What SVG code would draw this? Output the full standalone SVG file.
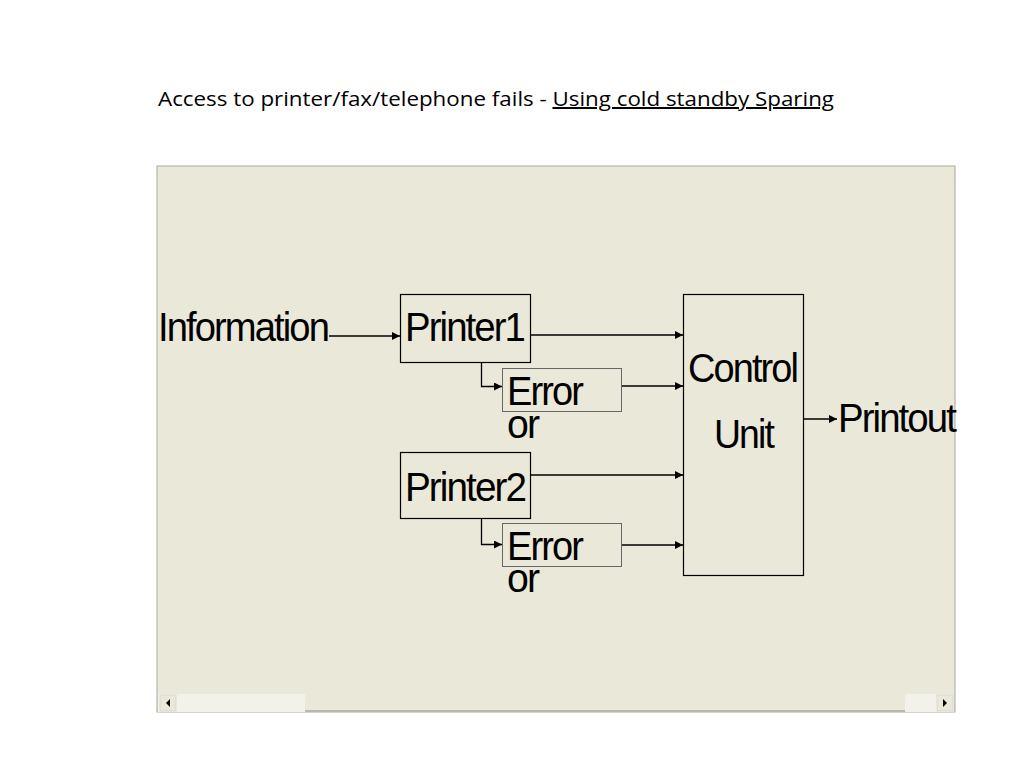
<svg xmlns="http://www.w3.org/2000/svg" width="1024" height="768" viewBox="0 0 1024 768">
<defs>
<style>
.lbl{font-family:"Liberation Sans",Arial,sans-serif;fill:#000;letter-spacing:-2px}
.box{fill:none;stroke:#000;stroke-width:1.2}
.ebox{fill:none;stroke:#666;stroke-width:1}
.ln{fill:none;stroke:#000;stroke-width:1.3}
.title{font-family:"Open Sans","Liberation Sans",sans-serif;font-size:20px;fill:#000}
</style>
<marker id="ah" viewBox="0 0 10 10" refX="10" refY="5" markerWidth="8" markerHeight="8" markerUnits="userSpaceOnUse" orient="auto">
<path d="M0,0 L10,5 L0,10 Z" fill="#000"/>
</marker>
</defs>
<rect width="1024" height="768" fill="#fff"/>
<text class="title" x="158" y="106" textLength="676" lengthAdjust="spacingAndGlyphs">Access to printer/fax/telephone fails - <tspan text-decoration="underline">Using cold standby Sparing</tspan></text>
<g id="panel">
<rect x="157" y="166" width="798" height="546" fill="#EAE8D9" stroke="#A9A79C" stroke-width="1"/>
<rect x="158" y="694" width="796" height="18" fill="#F2F1EA"/>
<rect x="305" y="694" width="600" height="17" fill="#EAE8D9"/>
<line x1="305" y1="711" x2="905" y2="711" stroke="#A8A69A" stroke-width="1.5"/>
<rect x="160" y="695" width="16" height="16" fill="#EAE8D9" stroke="#C8C6BA" stroke-width="0.5"/>
<path d="M170,699 L166,703 L170,707 Z" fill="#000"/>
<rect x="937" y="695" width="16" height="16" fill="#EAE8D9" stroke="#C8C6BA" stroke-width="0.5"/>
<path d="M943,699 L947,703 L943,707 Z" fill="#000"/>
</g>
<g id="information"><text class="lbl" x="158" y="341" font-size="40" textLength="170" lengthAdjust="spacingAndGlyphs">Information</text></g>
<g id="printer1"><rect class="box" x="400.5" y="294.5" width="130" height="68" fill="#EAE8D9"/><text class="lbl" x="405" y="341" font-size="40" textLength="119" lengthAdjust="spacingAndGlyphs">Printer1</text></g>
<g id="error1"><rect class="ebox" x="502.5" y="368.5" width="119" height="43"/><text class="lbl" x="507" y="405" font-size="40" textLength="75" lengthAdjust="spacingAndGlyphs">Error</text><text class="lbl" x="507" y="438" font-size="40" textLength="31" lengthAdjust="spacingAndGlyphs">or</text></g>
<g id="printer2"><rect class="box" x="400.5" y="452.5" width="130" height="66" fill="#EAE8D9"/><text class="lbl" x="405" y="501" font-size="40" textLength="120" lengthAdjust="spacingAndGlyphs">Printer2</text></g>
<g id="error2"><rect class="ebox" x="502.5" y="523.5" width="119" height="43"/><text class="lbl" x="507" y="560" font-size="40" textLength="75" lengthAdjust="spacingAndGlyphs">Error</text><text class="lbl" x="507" y="592" font-size="40" textLength="31" lengthAdjust="spacingAndGlyphs">or</text></g>
<g id="control-unit"><rect class="box" x="683.5" y="294.5" width="120" height="281"/><text class="lbl" x="688" y="382" font-size="40" textLength="109" lengthAdjust="spacingAndGlyphs">Control</text><text class="lbl" x="714" y="448" font-size="40" textLength="59" lengthAdjust="spacingAndGlyphs">Unit</text></g>
<g id="printout"><text class="lbl" x="838" y="432" font-size="40" textLength="117" lengthAdjust="spacingAndGlyphs">Printout</text></g>
<g id="connectors">
<line class="ln" x1="329" y1="336" x2="400" y2="336" marker-end="url(#ah)"/>
<line class="ln" x1="531" y1="335" x2="683" y2="335" marker-end="url(#ah)"/>
<line class="ln" x1="622" y1="386" x2="683" y2="386" marker-end="url(#ah)"/>
<line class="ln" x1="531" y1="475" x2="683" y2="475" marker-end="url(#ah)"/>
<line class="ln" x1="622" y1="545" x2="683" y2="545" marker-end="url(#ah)"/>
<path class="ln" d="M481.5,363 V386.5 H502" marker-end="url(#ah)"/>
<path class="ln" d="M481.5,519 V544.5 H502" marker-end="url(#ah)"/>
<line class="ln" x1="804" y1="419" x2="837" y2="419" marker-end="url(#ah)"/>
</g>
</svg>
